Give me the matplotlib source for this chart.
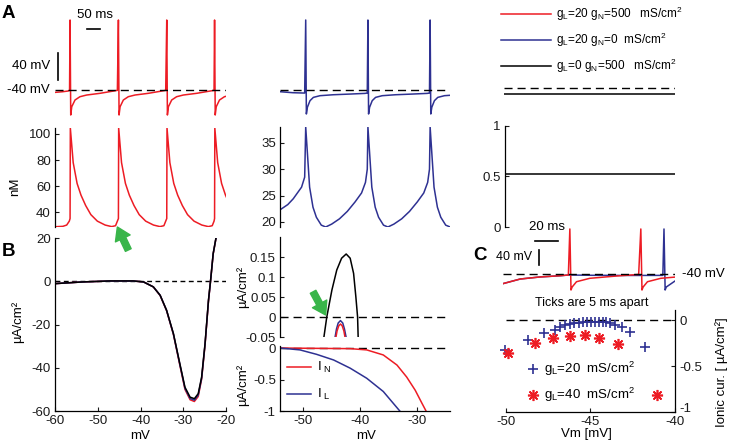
import matplotlib
matplotlib.use('Agg')
import matplotlib.pyplot as plt
from matplotlib.transforms import ScaledTranslation

plt.rcParams['font.family'] = ['Liberation Sans', 'DejaVu Sans']
plt.rcParams['font.size'] = 9.5
plt.rcParams['axes.unicode_minus'] = False
plt.rcParams['mathtext.fontset'] = 'custom'
plt.rcParams['mathtext.rm'] = 'Liberation Sans'
plt.rcParams['mathtext.it'] = 'Liberation Sans:italic'

RED = '#ed1c24'
BLUE = '#2e3192'
GREEN = '#39b54a'
W, H = 731, 444

# ---- A, voltage traces (ms, mV), read as spike times + one cycle shape ----
a_red_pre_t = [0, 30, 50, 56]
a_red_pre_v = [-43.5, -42.5, -41.5, -40.5]
a_red_spikes = [58, 244, 430, 614]
a_red_cyc_dt = [0, 2.5, 6.5, 19, 38, 64, 115, 167, 182]
a_red_cyc_v = [63.7, -77, -64.7, -54.8, -49.9, -47.4, -44.9, -41.5, -40.5]

a_blue_pre_t = [0, 50, 95]
a_blue_pre_v = [-42.5, -44, -44.5]
a_blue_spikes = [99, 338.5, 578]
a_blue_cyc_dt = [0, 2.5, 6.5, 16.5, 29.5, 55, 106, 170, 228, 237]
a_blue_cyc_v = [63.7, -75.5, -65.5, -55.8, -50.9, -48.4, -47, -46, -45, -44.5]

a_black_t = [0, 654]
a_black_v = [-48.9, -48.9]

# ---- A, calcium (nM) ----
ca_red_pre_t = [0, 30, 45, 55]
ca_red_pre_v = [28.7, 29, 30, 33]
ca_red_cyc_dt = [0, 1, 12, 27, 42, 60, 80, 105, 135, 160, 175, 182]
ca_red_cyc_v = [35, 104.6, 78, 62, 53, 45, 38, 33, 30, 28.8, 29.5, 33]

ca_blue_pre_t = [0, 30, 51, 83, 95]
ca_blue_pre_v = [22.3, 23.3, 24.4, 26.6, 28.5]
ca_blue_cyc_dt = [0, 15, 28, 41, 60, 77, 100, 130, 160, 190, 215, 230, 237]
ca_blue_cyc_v = [38, 26.6, 22.8, 20.9, 19.4, 19.05, 19.6, 20.6, 22, 23.8, 25.5, 27.5, 30]

ca_black_t = [0, 654]
ca_black_v = [0.52, 0.52]

# ---- B, I-V curves ----
b_vm = [-60, -53.4, -47.1, -41.7, -39.3, -37, -35.4, -33.9, -32.3, -30.8, -29.6,
        -28.4, -27.4, -26.5, -25.7, -24.9, -24.1, -23.6, -23, -22.3, -21.5]
b_black = [-1.1, -0.3, 0.15, 0.15, -0.3, -2.6, -6.5, -13.4, -24.2, -38.1, -49,
           -53.6, -54.3, -52, -44.3, -28.8, -8.8, 0.5, 12.8, 20.5, 30]
b_red = [-1.1, -0.3, 0.1, 0.1, -0.3, -2.6, -6.6, -13.6, -24.6, -38.8, -50,
         -54.8, -55.6, -53.3, -45.3, -29.5, -9.2, 0.3, 12.6, 20.3, 30]
b_blue = [-1.1, -0.3, 0.1, 0.1, -0.3, -2.6, -6.5, -13.5, -24.4, -38.4, -49.5,
          -54.2, -55, -52.6, -44.8, -29.1, -9, 0.4, 12.7, 20.4, 30]

# zoom around threshold
u_vm = [-46.6, -46.3, -45.8, -44.9, -44.05, -43.2, -42.4, -41.7, -41.1, -40.7, -40.4, -40.3, -40.2]
u_black = [-0.07, -0.05, 0, 0.0675, 0.1175, 0.147, 0.1575, 0.147, 0.109, 0.05, 0, -0.05, -0.07]
u_blue_vm = [-44.4, -44.1, -43.8, -43.4, -43.0, -42.7, -42.35]
u_blue = [-0.055, -0.03, -0.015, -0.009, -0.015, -0.03, -0.055]
u_red_vm = [-44.25, -44.0, -43.7, -43.4, -43.1, -42.8, -42.55]
u_red = [-0.055, -0.035, -0.022, -0.0175, -0.022, -0.035, -0.055]

# ionic currents
in_vm = [-54, -41.7, -38.8, -35.9, -33.5, -31.8, -30.3, -29.1, -28.4, -28]
in_cur = [0, -0.01, -0.03, -0.11, -0.27, -0.46, -0.67, -0.88, -1.0, -1.1]
il_vm = [-54, -50.5, -47.6, -44.6, -41.7, -38.8, -35.9, -33, -32.5]
il_cur = [0, -0.03, -0.1, -0.19, -0.32, -0.48, -0.69, -1.0, -1.05]

# ---- C, voltage traces (ms, mV) ----
c_red_pre_t = [0, 15, 32, 50, 57]
c_red_pre_v = [-67, -54.7, -49.3, -45.9, -44]
c_red_spikes = [58.3, 120.2]
c_red_cyc_dt = [0, 1, 2, 5.8, 17.4, 40.7, 60]
c_red_cyc_v = [78.7, -84, -76, -61.9, -52.8, -46.7, -42.5]
c_blue_t = [0, 15, 32, 50, 57, 80, 110, 139.4, 140.4, 141.4, 142.4, 150]
c_blue_v = [-67, -54.7, -49.3, -45.9, -44, -44.8, -45.2, -45, 78.7, -84, -76, -60]

# ---- C, ionic current vs Vm ----
s_blue_vm = [-50.06, -48.68, -47.73, -47.1, -46.8, -46.5, -46.2, -45.98, -45.7, -45.46, -45.2,
             -44.99, -44.75, -44.5, -44.28, -44.08, -43.85, -43.55, -43.15, -42.66, -41.78]
s_blue_i = [-0.33, -0.217, -0.145, -0.109, -0.075, -0.054, -0.043, -0.036, -0.029, -0.025, -0.022,
            -0.018, -0.018, -0.018, -0.018, -0.025, -0.036, -0.054, -0.072, -0.127, -0.297]
s_red_vm = [-49.86, -48.3, -47.2, -46.2, -45.3, -44.48, -43.39, -41.08]
s_red_i = [-0.362, -0.254, -0.2, -0.17, -0.163, -0.19, -0.265, -0.815]

SCALE_A_MS, SCALE_A_MV = 50, 40
SCALE_C_MS, SCALE_C_MV = 20, 40
DASH = (5.8, 3.6)


def build_trace(pre_t, pre_v, spikes, cyc_dt, cyc_v):
    t, v = list(pre_t), list(pre_v)
    for s in spikes:
        t += [s + d for d in cyc_dt]
        v += list(cyc_v)
    return t, v


def add_box(fig, l, t, r, b):
    return fig.add_axes([l / W, 1 - b / H, (r - l) / W, (b - t) / H])


def ftext(fig, x, y, s, **kw):
    fig.text(x / W, 1 - y / H, s, **kw)


def style(ax, spines=('left',)):
    for s in ax.spines:
        ax.spines[s].set_visible(s in spines)
        ax.spines[s].set_linewidth(0.9)
    ax.tick_params(direction='in', length=3, width=0.8, pad=3, labelsize=9.5, colors='#1a1a1a')
    if 'bottom' not in spines:
        ax.set_xticks([])
    ax.patch.set_alpha(0)


fig = plt.figure(figsize=(W / 100, H / 100), dpi=100)

# ---------------- row 1: voltage ----------------
ax = add_box(fig, 55, 15, 226, 120)
t, v = build_trace(a_red_pre_t, a_red_pre_v, a_red_spikes, a_red_cyc_dt, a_red_cyc_v)
ax.plot(t, v, color=RED, lw=1.1)
ax.axhline(-40, color='k', lw=1, dashes=DASH)
ax.plot([123, 123 + SCALE_A_MS], [50.4, 50.4], color='k', lw=1.2, clip_on=False)
ax.plot([11.6, 11.6], [-25.2, -25.2 + SCALE_A_MV], color='k', lw=1.2, clip_on=False)
ax.set_xlim(0, 658)
ax.set_ylim(-84.4, 71.1)
ax.axis('off')

ax = add_box(fig, 280, 15, 450, 120)
t, v = build_trace(a_blue_pre_t, a_blue_pre_v, a_blue_spikes, a_blue_cyc_dt, a_blue_cyc_v)
ax.plot(t, v, color=BLUE, lw=1.1)
ax.axhline(-40, color='k', lw=1, dashes=DASH)
ax.set_xlim(0, 654.5)
ax.set_ylim(-84.4, 71.1)
ax.axis('off')

ax = add_box(fig, 504, 13.3, 675, 118.3)
ax.axhline(-40, color='k', lw=1, dashes=DASH)
ax.plot(a_black_t, a_black_v, color='k', lw=1.1)
ax.set_xlim(0, 654)
ax.set_ylim(-84.4, 71.1)
ax.axis('off')

ftext(fig, 50, 90, '-40 mV', ha='right', va='center', fontsize=9.5)
ftext(fig, 50, 66, '40 mV', ha='right', va='center', fontsize=9.5)
ftext(fig, 95, 15, '50 ms', ha='center', va='center', fontsize=9.5)
ftext(fig, 2, 13, 'A', ha='left', va='center', fontsize=13.5, fontweight='bold')

# legend for the three conditions
leg_lines = [plt.Line2D([], [], color=RED, lw=1.1),
             plt.Line2D([], [], color=BLUE, lw=1.1),
             plt.Line2D([], [], color='k', lw=1.1)]
leg_labels = [r'g$_\mathrm{L}$=20 g$_\mathrm{N}$=500   mS/cm$^2$',
              r'g$_\mathrm{L}$=20 g$_\mathrm{N}$=0  mS/cm$^2$',
              r'g$_\mathrm{L}$=0 g$_\mathrm{N}$=500   mS/cm$^2$']
fig.legend(leg_lines, leg_labels, loc='upper left', bbox_to_anchor=(501 / W, 1 - 5 / H),
           frameon=False, fontsize=8.5, handlelength=4.2, handletextpad=0.5,
           labelspacing=0.66, borderpad=0, borderaxespad=0)

# ---------------- row 2: calcium ----------------
ax = add_box(fig, 55, 128, 226, 227)
t, v = build_trace(ca_red_pre_t, ca_red_pre_v, a_red_spikes, ca_red_cyc_dt, ca_red_cyc_v)
ax.plot(t, v, color=RED, lw=1.1)
ax.set_xlim(0, 658)
ax.set_ylim(28.5, 104.6)
ax.set_yticks([40, 60, 80, 100])
style(ax)
ax.annotate('', xy=(240, 28.5), xytext=(282, 10.8), annotation_clip=False,
            arrowprops=dict(arrowstyle='simple,head_length=0.7,head_width=0.9,tail_width=0.35',
                            color=GREEN, mutation_scale=13, shrinkA=0, shrinkB=0))
ftext(fig, 15, 187, 'nM', rotation=90, ha='center', va='center', fontsize=9.5)

ax = add_box(fig, 280, 127, 450, 227)
t, v = build_trace(ca_blue_pre_t, ca_blue_pre_v, a_blue_spikes, ca_blue_cyc_dt, ca_blue_cyc_v)
ax.plot(t, v, color=BLUE, lw=1.1)
ax.set_xlim(0, 654.5)
ax.set_ylim(19.05, 38)
ax.set_yticks([20, 25, 30, 35])
style(ax)

ax = add_box(fig, 505, 126, 675, 227)
ax.plot(ca_black_t, ca_black_v, color='k', lw=1.1)
ax.set_xlim(0, 654)
ax.set_ylim(0, 1)
ax.set_yticks([0, 0.5, 1])
ax.set_yticklabels(['0', '0.5', '1'])
style(ax)

# ---------------- row 3, B ----------------
ax = add_box(fig, 55, 238, 226, 411)
ax.axhline(0, color='k', lw=1, dashes=(3.5, 2.5))
ax.plot(b_vm, b_red, color=RED, lw=1.1)
ax.plot(b_vm, b_blue, color=BLUE, lw=1.1)
ax.plot(b_vm, b_black, color='k', lw=1.1)
ax.set_xlim(-60, -20)
ax.set_ylim(-60, 20)
ax.set_xticks([-60, -50, -40, -30, -20])
ax.set_yticks([-60, -40, -20, 0, 20])
style(ax, ('left', 'bottom'))
ftext(fig, 140, 436, 'mV', ha='center', va='center', fontsize=9.5)
ftext(fig, 18, 322, 'µA/cm²', rotation=90, ha='center', va='center', fontsize=9.5)
ftext(fig, 2, 252, 'B', ha='left', va='center', fontsize=13.5, fontweight='bold')

ax = add_box(fig, 280, 237, 450, 337)
ax.axhline(0, color='k', lw=1, dashes=DASH)
ax.plot(u_vm, u_black, color='k', lw=1.1)
ax.plot(u_blue_vm, u_blue, color=BLUE, lw=1.1)
ax.plot(u_red_vm, u_red, color=RED, lw=1.1)
ax.set_xlim(-54, -24.2)
ax.set_ylim(-0.05, 0.2)
ax.set_yticks([-0.05, 0, 0.05, 0.1, 0.15])
ax.set_yticklabels(['-0.05', '0', '0.05', '0.1', '0.15'])
style(ax)
ax.annotate('', xy=(-46, 0.005), xytext=(-48.2, 0.063),
            arrowprops=dict(arrowstyle='simple,head_length=0.7,head_width=0.9,tail_width=0.35',
                            color=GREEN, mutation_scale=13, shrinkA=0, shrinkB=0))
ftext(fig, 243, 287, 'µA/cm²', rotation=90, ha='center', va='center', fontsize=9.5)

ax = add_box(fig, 280, 346, 450, 411)
ax.axhline(0, color='k', lw=1, dashes=DASH)
l_n, = ax.plot(in_vm, in_cur, color=RED, lw=1.1)
l_l, = ax.plot(il_vm, il_cur, color=BLUE, lw=1.1)
ax.set_xlim(-54, -24.2)
ax.set_ylim(-1, 0.032)
ax.set_xticks([-50, -40, -30])
ax.set_yticks([-1, -0.5, 0])
ax.set_yticklabels(['-1', '-0.5', '0'])
style(ax, ('left', 'bottom'))
ax.legend([l_n, l_l], [r'I$_{\ \mathrm{N}}$', r'I$_{\ \mathrm{L}}$'], loc='upper left',
          bbox_to_anchor=(0.04, 0.78), frameon=False, fontsize=9.5, handlelength=1.8,
          handletextpad=0.5, labelspacing=0.9, borderpad=0, borderaxespad=0)
ftext(fig, 366, 436, 'mV', ha='center', va='center', fontsize=9.5)
ftext(fig, 243, 385, 'µA/cm²', rotation=90, ha='center', va='center', fontsize=9.5)

# ---------------- row 3, C ----------------
ax = add_box(fig, 503, 225, 675, 295)
ax.plot(c_blue_t, c_blue_v, color=BLUE, lw=1.1)
t, v = build_trace(c_red_pre_t, c_red_pre_v, c_red_spikes, c_red_cyc_dt, c_red_cyc_v)
ax.plot(t, v, color=RED, lw=1.1)
ax.axhline(-40, color='k', lw=1, dashes=DASH)
ax.plot([27.8, 27.8 + SCALE_C_MS], [46.7, 46.7], color='k', lw=1.2, clip_on=False)
ax.plot([31.3, 31.3], [-17.3, -17.3 + SCALE_C_MV], color='k', lw=1.2, clip_on=False)
ax.set_xlim(0, 150)
ax.set_ylim(-97.3, 89.3)
ax.axis('off')
ftext(fig, 547, 227, '20 ms', ha='center', va='center', fontsize=9.5)
ftext(fig, 532, 257, '40 mV', ha='right', va='center', fontsize=9)
ftext(fig, 682, 274, '-40 mV', ha='left', va='center', fontsize=9.5)
ftext(fig, 487, 256, 'C', ha='right', va='center', fontsize=13.5, fontweight='bold')

ax = add_box(fig, 506, 310, 675, 412)
ax.axhline(0, color='k', lw=1, dashes=DASH)
p_b, = ax.plot(s_blue_vm, s_blue_i, ls='none', marker='+', ms=7.5, mew=1.2, color=BLUE,
               clip_on=False)
p_r, = ax.plot(s_red_vm, s_red_i, ls='none', marker=(8, 2, 0), ms=8, mew=1.2, color=RED,
               clip_on=False)
ax.set_xlim(-50, -40)
ax.set_ylim(-1, 0.11)
ax.set_xticks([-50, -45, -40])
ax.set_yticks([-1, -0.5, 0])
ax.set_yticklabels(['-1', '-0.5', '0'])
style(ax, ('bottom', 'right'))
ax.yaxis.tick_right()
ax.tick_params(axis='y', direction='in', length=3, pad=3)
lab = ax.get_yticklabels()[0]
lab.set_transform(lab.get_transform() + ScaledTranslation(0, 3 / 72, fig.dpi_scale_trans))
ax.legend([p_b, p_r], [r'g$_\mathrm{L}$=20  mS/cm$^2$', r'g$_\mathrm{L}$=40  mS/cm$^2$'],
          loc='upper left', bbox_to_anchor=(0.13, 0.51), frameon=False, fontsize=9.5,
          handlelength=0.8, handletextpad=0.4, labelspacing=0.6, borderpad=0, borderaxespad=0)
ftext(fig, 592, 303, 'Ticks are 5 ms apart', ha='center', va='center', fontsize=9)
ftext(fig, 586, 434, 'Vm [mV]', ha='center', va='center', fontsize=9.5)
ftext(fig, 722, 372, 'Ionic cur. [ µA/cm²]', rotation=90, ha='center', va='center', fontsize=9.5)

fig.savefig('out.png', dpi=100, facecolor='white')
